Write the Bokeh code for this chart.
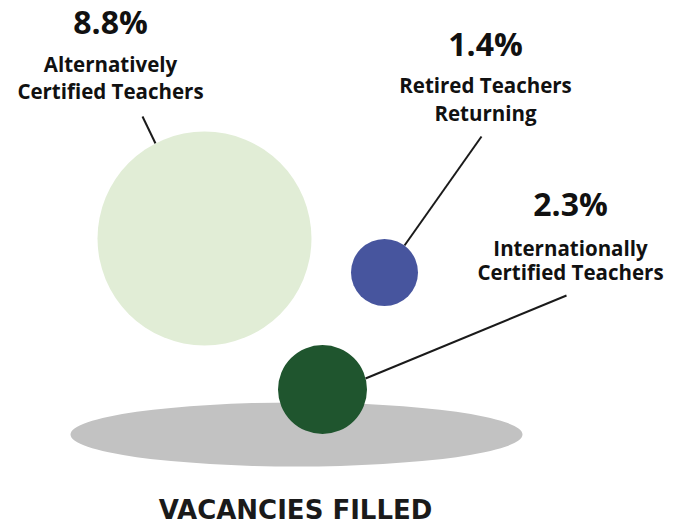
from bokeh.plotting import figure
from bokeh.models import Range1d, ColumnDataSource
from bokeh.core.properties import value
from bokeh.embed import file_html
from bokeh.resources import INLINE

# ---- data ----
categories = ["Alternatively Certified Teachers", "Retired Teachers Returning",
              "Internationally Certified Teachers"]
label_lines = [["Alternatively", "Certified Teachers"],
               ["Retired Teachers", "Returning"],
               ["Internationally", "Certified Teachers"]]
percent = [8.8, 1.4, 2.3]
title_text = "VACANCIES FILLED"

# ---- layout (pixel space) ----
W, H = 687, 527
colors = ["#e1edd6", "#47559e", "#1f552e"]
cx = [204, 384, 322]
cy = [238, 272, 389]
radius = [107, 33.5, 44.5]
leader = [((155, 143), (142, 116)), ((404, 245), (481, 136)), ((365, 378), (566, 295))]
label_x = [110, 485, 570]
pct_base = [33, 55, 215]
line1_base = [71, 92, 255]
line_gap = [27, 28, 24]

FONT = "Open Sans"
PCT_SIZE, LBL_SIZE, TTL_SIZE = 32, 20.5, 26
K = 0.39  # baseline correction (fraction of font size)

p = figure(width=W, height=H, x_range=Range1d(0, W), y_range=Range1d(H, 0),
           output_backend="svg", toolbar_location=None, min_border=0)
p.axis.visible = False
p.grid.visible = False
p.outline_line_color = None
p.background_fill_color = "white"
p.border_fill_color = "white"

# base ellipse
p.ellipse(x=[296], y=[434], width=[452], height=[64], fill_color="#c2c2c2", line_color=None)

# leader lines
for (a, b) in leader:
    p.line(x=[a[0], b[0]], y=[a[1], b[1]], line_color="#1a1a1a", line_width=2)

src = ColumnDataSource(dict(x=cx, y=cy, r=radius, c=colors))
p.circle(x="x", y="y", radius="r", fill_color="c", line_color=None, source=src)

# labels
pct_txt = [f"{v:.1f}%" for v in percent]
p.text(x=label_x, y=[b - K * PCT_SIZE for b in pct_base], text=pct_txt, text_align="center",
       text_baseline="alphabetic", text_font=value(FONT), text_font_style="bold",
       text_font_size=f"{PCT_SIZE}px", text_color="#111111")
for i in range(len(categories)):
    ys = [line1_base[i] + k * line_gap[i] - K * LBL_SIZE for k in range(len(label_lines[i]))]
    p.text(x=[label_x[i]] * len(ys), y=ys, text=label_lines[i], text_align="center",
           text_baseline="alphabetic", text_font=value(FONT), text_font_style="bold",
           text_font_size=f"{LBL_SIZE}px", text_color="#111111")

p.text(x=[295], y=[520 - K * TTL_SIZE], text=[title_text], text_align="center",
       text_baseline="alphabetic", text_font=value("DejaVu Sans"), text_font_style="bold",
       text_font_size=f"{TTL_SIZE}px", text_color="#1a1a1a")

open("out.html", "w").write(file_html(p, INLINE))
